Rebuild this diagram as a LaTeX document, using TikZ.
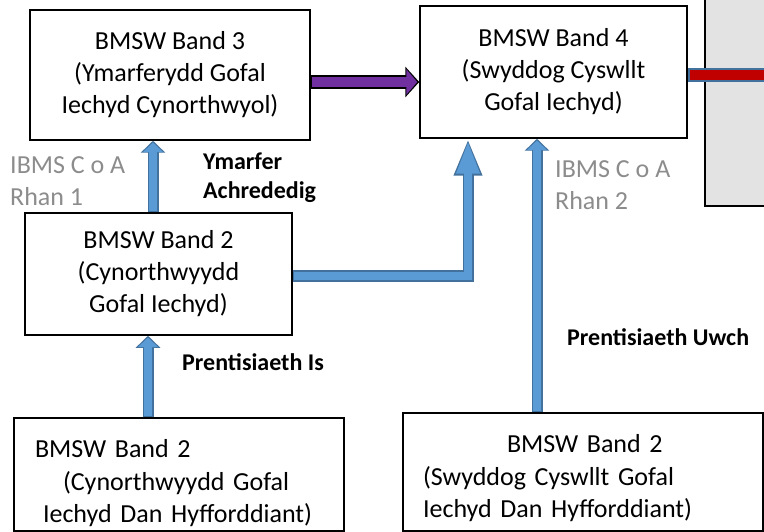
\documentclass[tikz,border=0pt]{standalone}
\usepackage{fontspec}
\setmainfont{Carlito}
\usetikzlibrary{arrows.meta}

\definecolor{bluefill}{HTML}{5B9BD5}
\definecolor{blueline}{HTML}{41719C}
\definecolor{purplefill}{HTML}{7030A0}
\definecolor{redfill}{HTML}{C00000}
\definecolor{greyfill}{HTML}{E3E3E3}
\definecolor{greytext}{HTML}{8C8C8C}

\begin{document}
\begin{tikzpicture}[
  x=1pt,
  y=-1pt,
  band/.style={
  	draw,
  	line width=1.5pt,
  	align=center,
  	inner sep=0pt,
  	font=\fontsize{26pt}{32pt}\selectfont
  },
  route/.style={
  	anchor=west,
  	align=left,
  	inner sep=0pt,
  	font=\fontsize{24pt}{29pt}\selectfont\bfseries
  },
  ibms/.style={
  	anchor=west,
  	align=left,
  	inner sep=0pt,
  	text=greytext,
  	font=\fontsize{26pt}{32pt}\selectfont
  },
  uparrow/.style={
  	draw=blueline,
  	line width=11pt,
  	-{Triangle[length=12pt,width=24pt]},
  	postaction={draw=bluefill,line width=8pt,-{Triangle[length=9.5pt,width=19.5pt]},
  	  shorten >=1.8pt,shorten <=1.5pt}
  },
  longarrow/.style={
  	draw=blueline,
  	line width=11pt,
  	line join=miter,
  	-{Triangle[length=37pt,width=26pt]},
  	postaction={draw=bluefill,line width=8pt,line join=miter,-{Triangle[length=33pt,width=21.5pt]},
  	  shorten >=2pt,shorten <=1.5pt}
  },
  purplearrow/.style={
  	draw=black,
  	line width=13.5pt,
  	-{Triangle[length=14pt,width=30pt]},
  	postaction={draw=purplefill,line width=10.5pt,-{Triangle[length=11pt,width=25pt]},
  	  shorten >=2pt,shorten <=1.5pt}
  },
  redbar/.style={
  	draw=blueline,
  	line width=14pt,
  	postaction={draw=redfill,line width=10pt,shorten <=2pt}
  }
  ]
  \clip (0,0) rectangle (764,532);

  \node[draw,fill=greyfill,line width=1.5pt,minimum width=95pt,minimum height=216pt] (ext) at (752.5,98) {};

  \node[band,minimum width=280pt,minimum height=130pt] (b3) at (170,75)
    {BMSW Band 3\\(Ymarferydd Gofal\\Iechyd Cynorthwyol)};
  \node[band,minimum width=267pt,minimum height=132pt] (b4) at (553.5,72)
    {BMSW Band 4\\(Swyddog Cyswllt\\Gofal Iechyd)};
  \node[band,minimum width=267pt,minimum height=122pt] (b2m) at (158.5,274)
    {BMSW Band 2\\(Cynorthwyydd\\Gofal Iechyd)};
  % first-line struts push the text down as in the original
  \node[band,align=left,text width=272pt,minimum width=330pt,minimum height=113pt] (b2l) at (179,474.5)
    {\rule{0pt}{35pt}\hspace*{-8pt}BMSW Band 2\\[1pt]\hspace*{20pt}(Cynorthwyydd Gofal\\Iechyd Dan Hyfforddiant)};
  \node[band,align=left,text width=320pt,minimum width=360pt,minimum height=118pt] (b2r) at (583,472)
    {\rule{0pt}{31pt}\hspace*{84pt}BMSW Band 2\\[1pt](Swyddog Cyswllt Gofal\\Iechyd Dan Hyfforddiant)};

  \node[ibms] (cert1) at (10,181) {IBMS C o A\\Rhan 1};
  \node[route] (accred) at (203,177.5) {Ymarfer\\Achrededig};
  \node[ibms] (cert2) at (555,185) {IBMS C o A\\Rhan 2};
  \node[route] (lower) at (182,362) {Prentisiaeth Is};
  \node[route] (higher) at (567,337) {Prentisiaeth Uwch};

  \coordinate (elbow) at (468,276);
  \coordinate (offpage) at (770,75.5);

  \draw[uparrow] (b2m.north -| 153,0) -- (b3.south -| 153,0);
  \draw[uparrow] (b2l.north -| 148,0) -- (b2m.south -| 148,0);
  \draw[longarrow] (b2m.east |- elbow) -- (elbow) -- (b4.south -| elbow);
  \draw[uparrow] (b2r.north -| 537,0) -- (b4.south -| 537,0);
  \draw[purplearrow] (b3.east |- 0,82) -- (b4.west |- 0,82);
  \draw[redbar] (b4.east |- offpage) -- (offpage);
\end{tikzpicture}
\end{document}
